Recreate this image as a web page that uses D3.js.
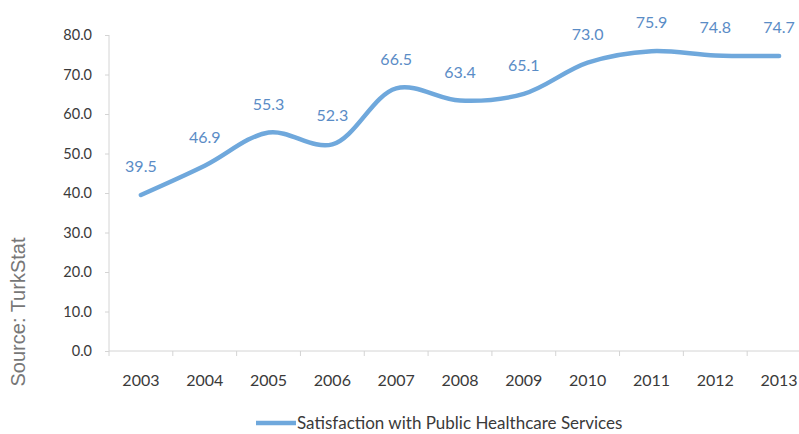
<!DOCTYPE html>
<html>
<head>
<meta charset="utf-8">
<script src="https://cdn.jsdelivr.net/npm/d3@7"></script>
<style>
  body { margin: 0; background: #fff; }
  svg { display: block; }
  .axis path, .axis line { stroke: #d4d4d4; }
  .axis text { fill: #3a3a3a; font-family: Lato, "Open Sans", sans-serif; font-size: 14px; }
</style>
</head>
<body>
<svg width="799" height="434"></svg>
<script>
// data
var years = ["2003", "2004", "2005", "2006", "2007", "2008", "2009", "2010", "2011", "2012", "2013"];
var satisfaction = [39.5, 46.9, 55.3, 52.3, 66.5, 63.4, 65.1, 73.0, 75.9, 74.8, 74.7];
var yTicks = [0, 10, 20, 30, 40, 50, 60, 70, 80];
var seriesName = "Satisfaction with Public Healthcare Services";

var lineColor = "#6fa8dc",
    labelColor = "#5a8cc6";

var svg = d3.select("svg"),
    margin = {top: 35, left: 109},
    height = 316;

var x = d3.scaleBand().domain(years).range([0, 702]),
    y = d3.scaleLinear().domain([0, 80]).range([height, 0]);

var g = svg.append("g")
    .attr("transform", "translate(" + margin.left + "," + margin.top + ")");

// x axis (ticks between categories)
var xa = g.append("g")
    .attr("class", "axis")
    .attr("transform", "translate(0," + height + ")")
    .call(d3.axisBottom(x).tickSize(0).tickPadding(24));
xa.select(".domain").attr("d", "M0,0H" + (799 - margin.left));
xa.selectAll(".tick text").style("font-size", "16px");
g.append("g")
    .attr("class", "axis")
    .selectAll("line")
    .data(years)
    .enter().append("line")
      .attr("x1", function(d) { return x(d); })
      .attr("x2", function(d) { return x(d); })
      .attr("y1", height)
      .attr("y2", height + 5);

// y axis
var ya = g.append("g")
    .attr("class", "axis")
    .call(d3.axisLeft(y).tickValues(yTicks).tickSize(4).tickPadding(13)
      .tickFormat(d3.format(".1f")));
ya.select(".domain").attr("d", "M0,0V" + height);
ya.selectAll(".tick text").style("font-size", "14.5px");

// smoothed line
var line = d3.line()
    .x(function(d, i) { return x(years[i]) + x.bandwidth() / 2; })
    .y(function(d) { return y(d); })
    .curve(d3.curveCatmullRom.alpha(0.5));

g.append("path")
    .datum(satisfaction)
    .attr("fill", "none")
    .attr("stroke", lineColor)
    .attr("stroke-width", 4.5)
    .attr("stroke-linecap", "round")
    .attr("d", line);

// data labels
g.selectAll(".lbl")
    .data(satisfaction)
    .enter().append("text")
      .attr("class", "lbl")
      .attr("x", function(d, i) { return x(years[i]) + x.bandwidth() / 2; })
      .attr("y", function(d) { return y(d) - 23; })
      .attr("text-anchor", "middle")
      .attr("fill", labelColor)
      .style("font-family", "Lato, 'Open Sans', sans-serif")
      .style("font-size", "16px")
      .text(function(d) { return d.toFixed(1); });

// legend
svg.append("line")
    .attr("x1", 256).attr("x2", 296)
    .attr("y1", 423).attr("y2", 423)
    .attr("stroke", lineColor)
    .attr("stroke-width", 4.5);
svg.append("text")
    .attr("x", 297)
    .attr("y", 429)
    .attr("fill", "#3a3a3a")
    .style("font-family", "Lato, 'Open Sans', sans-serif")
    .style("font-size", "17px")
    .text(seriesName);

// source
svg.append("text")
    .attr("transform", "translate(25,312) rotate(-90)")
    .attr("text-anchor", "middle")
    .attr("fill", "#777")
    .style("font-family", "'Liberation Sans', Arial, sans-serif")
    .style("font-size", "20px")
    .text("Source: TurkStat");
</script>
</body>
</html>
